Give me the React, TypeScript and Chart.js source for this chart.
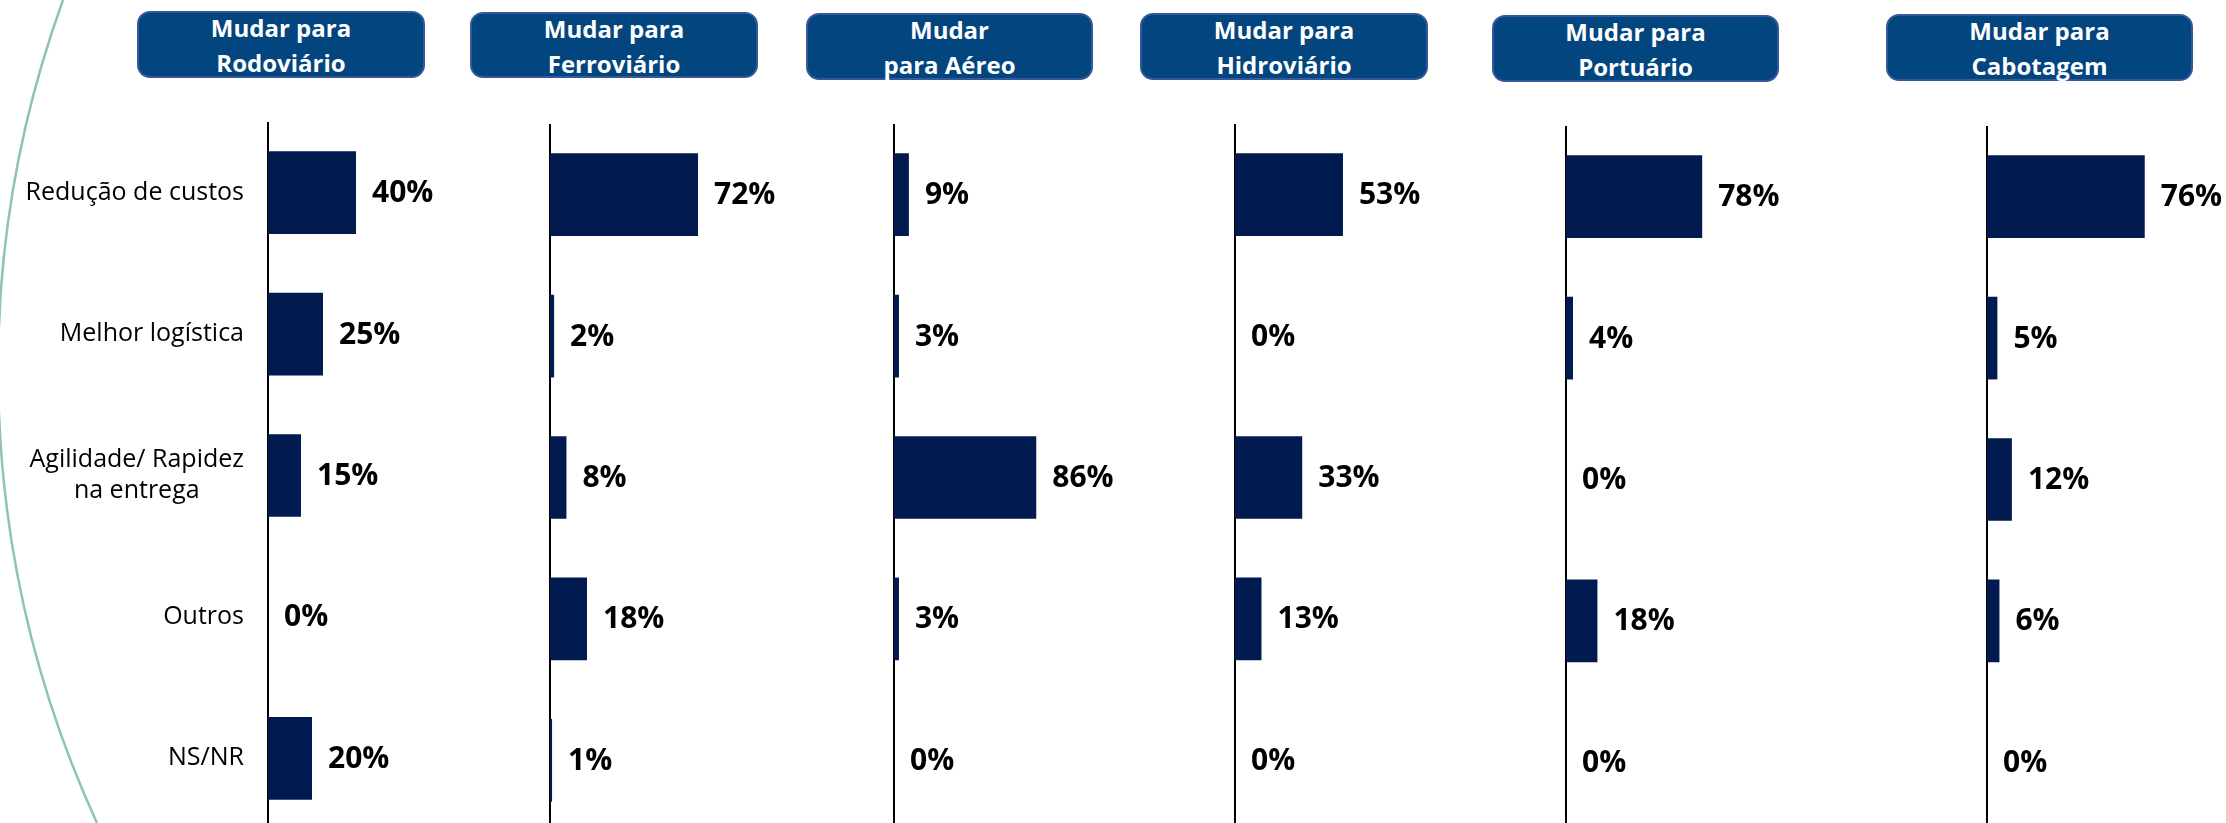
import React, { useEffect, useRef } from 'react';
import { Chart, registerables } from 'chart.js';

Chart.register(...registerables);

// ---------- data ----------
const categories: string[][] = [
  ['Redução de custos'],
  ['Melhor logística'],
  ['Agilidade/ Rapidez', 'na entrega'],
  ['Outros'],
  ['NS/NR'],
];

const panelTitles: string[][] = [
  ['Mudar para', 'Rodoviário'],
  ['Mudar para', 'Ferroviário'],
  ['Mudar', 'para Aéreo'],
  ['Mudar para', 'Hidroviário'],
  ['Mudar para', 'Portuário'],
  ['Mudar para', 'Cabotagem'],
];

const rodoviario = [40, 25, 15, 0, 20];
const ferroviario = [72, 2, 8, 18, 1];
const aereo = [9, 3, 86, 3, 0];
const hidroviario = [53, 0, 33, 13, 0];
const portuario = [78, 4, 0, 18, 0];
const cabotagem = [76, 5, 12, 6, 0];

const seriesList = [rodoviario, ferroviario, aereo, hidroviario, portuario, cabotagem];

// value-axis maximum of each small chart (each panel was scaled on its own)
const axisMax = [100, 107, 133, 108, 126, 106];

// ---------- layout / style ----------
const W = 2226;
const H = 823;
const axisX = [268, 550, 894, 1235, 1566, 1987];
const axisTop = [122, 124, 124, 124, 126, 126];
const headerBoxes = [
  { x: 137, y: 11, w: 288, h: 67 },
  { x: 470, y: 12, w: 288, h: 66 },
  { x: 806, y: 13, w: 287, h: 67 },
  { x: 1140, y: 13, w: 288, h: 67 },
  { x: 1492, y: 15, w: 287, h: 67 },
  { x: 1886, y: 14, w: 307, h: 67 },
];
const PLOT_W = 220;
const PAD_RIGHT = 90;
const CANVAS_H = 707;
const BAR_COLOR = '#011b50';
const FONT = '"Open Sans", "DejaVu Sans", sans-serif';

const valueLabels = {
  id: 'valueLabels',
  afterDatasetsDraw(chart: any) {
    const ctx = chart.ctx;
    const meta = chart.getDatasetMeta(0);
    const values = chart.data.datasets[0].data as number[];
    ctx.save();
    ctx.font = `bold 30px ${FONT}`;
    ctx.fillStyle = '#000';
    ctx.textAlign = 'left';
    ctx.textBaseline = 'middle';
    meta.data.forEach((bar: any, i: number) => {
      ctx.fillText(`${values[i]}%`, bar.x + 16, bar.y + 1);
    });
    ctx.restore();
  },
};

const categoryLabels = {
  id: 'categoryLabels',
  afterDraw(chart: any) {
    const ctx = chart.ctx;
    const yScale = chart.scales.y;
    const right = chart.chartArea.left - 24;
    ctx.save();
    ctx.font = `25px ${FONT}`;
    ctx.fillStyle = '#000';
    ctx.textBaseline = 'middle';
    ctx.textAlign = 'center';
    categories.forEach((lines, i) => {
      const cy = yScale.getPixelForValue(i);
      const maxW = Math.max(...lines.map((l) => ctx.measureText(l).width));
      const cx = right - maxW / 2;
      const lh = 31;
      lines.forEach((l, j) => {
        ctx.fillText(l, cx, cy + (j - (lines.length - 1) / 2) * lh);
      });
    });
    ctx.restore();
  },
};

function Panel({ idx }: { idx: number }) {
  const ref = useRef<HTMLCanvasElement>(null);
  const padLeft = idx === 0 ? axisX[0] : 4;
  useEffect(() => {
    if (!ref.current) return;
    const chart = new Chart(ref.current, {
      type: 'bar',
      data: {
        labels: categories.map((c) => c.join(' ')),
        datasets: [
          {
            data: seriesList[idx],
            backgroundColor: BAR_COLOR,
            borderWidth: 0,
            barPercentage: 0.585,
            categoryPercentage: 1,
          },
        ],
      },
      options: {
        indexAxis: 'y',
        responsive: false,
        animation: false,
        layout: { padding: { left: padLeft, right: PAD_RIGHT, top: 0, bottom: 0 } },
        plugins: {
          legend: { display: false },
          tooltip: { enabled: false },
          title: { display: false },
        },
        scales: {
          x: { display: false, min: 0, max: axisMax[idx] },
          y: {
            grid: { display: false, drawTicks: false },
            border: { display: true, color: '#000', width: 2 },
            ticks: { display: false },
          },
        },
      } as any,
      plugins: idx === 0 ? [valueLabels, categoryLabels] : [valueLabels],
    });
    return () => chart.destroy();
  }, [idx]);
  return (
    <canvas
      ref={ref}
      width={padLeft + PLOT_W + PAD_RIGHT}
      height={CANVAS_H}
      style={{ position: 'absolute', left: axisX[idx] - padLeft, top: axisTop[idx] }}
    />
  );
}

function Header({ idx }: { idx: number }) {
  const b = headerBoxes[idx];
  return (
    <div
      style={{
        position: 'absolute',
        left: b.x,
        top: b.y,
        width: b.w,
        height: b.h,
        boxSizing: 'border-box',
        background: '#03457f',
        border: '2px solid #34589a',
        borderRadius: 13,
        color: '#fff',
        fontFamily: FONT,
        fontWeight: 700,
        fontSize: 24,
        lineHeight: '35px',
        textAlign: 'center',
        overflow: 'visible',
      }}
    >
      <div style={{ marginTop: -3 }}>
        {panelTitles[idx][0]}
        <br />
        {panelTitles[idx][1]}
      </div>
    </div>
  );
}

export default function App() {
  useEffect(() => {
    document.body.style.margin = '0';
    document.body.style.overflow = 'hidden';
  }, []);
  return (
    <div
      style={{
        position: 'absolute',
        left: 0,
        top: 0,
        width: W,
        height: H,
        overflow: 'hidden',
        background: '#fff',
      }}
    >
      <svg width={W} height={H} style={{ position: 'absolute', left: 0, top: 0 }}>
        <path d="M 63 0 A 1087 1087 0 0 0 97 823" fill="none" stroke="#8fc3b3" strokeWidth={2.5} />
      </svg>
      {panelTitles.map((_, i) => (
        <Header key={`h${i}`} idx={i} />
      ))}
      {seriesList.map((_, i) => (
        <Panel key={`p${i}`} idx={i} />
      ))}
    </div>
  );
}
